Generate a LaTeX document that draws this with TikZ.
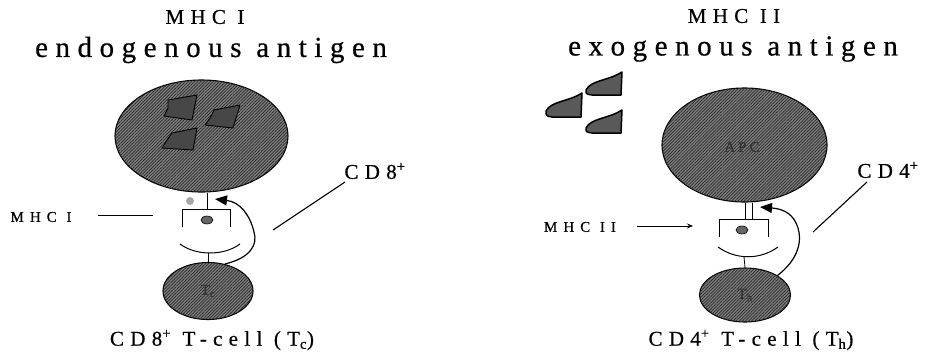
\documentclass[tikz,border=0pt]{standalone}
\usepackage{fontspec}
\setmainfont{Liberation Serif}[FakeBold=0.6]
\usetikzlibrary{shapes.geometric,arrows.meta,patterns.meta}

\newcommand{\spaced}[1]{\addfontfeatures{LetterSpace=#1}}

\begin{document}
\begin{tikzpicture}[x=1pt,y=1pt,
  cell/.style={ellipse,draw,line width=1.1pt,fill=black!50,inner sep=0pt,
    postaction={pattern={Lines[angle=45,distance=2.2pt,line width=0.7pt]},pattern color=black!85}},
  lbl/.style={inner sep=0pt,font=\fontsize{15}{17}\selectfont\spaced{40}},
  captext/.style={inner sep=0pt,font=\fontsize{21}{24}\selectfont\spaced{30}},
  head/.style={inner sep=0pt,font=\fontsize{29}{32}\selectfont\spaced{26}},
  inlbl/.style={text=black!80,font=\fontsize{15}{17}\selectfont\spaced{20}},
  antigen/.style={draw,line width=0.9pt,fill=black!72,line join=round}]
  \useasboundingbox (0,0) rectangle (931,-354);

  % MHC class I: endogenous pathway
  \node[captext] (titleA) at (205,-17) {MHC I};
  \node[head] (headA) at (211,-50) {endogenous antigen};
  \node[cell,minimum width=173pt,minimum height=112pt] (cellA) at (201.5,-136) {};
  \draw[antigen] (168,-100) -- (197,-95) -- (192,-120) -- (164,-116) -- (168,-108) -- cycle;
  \draw[antigen] (214,-110) -- (240,-105) -- (233,-128) -- (205,-125) -- (210,-118) -- cycle;
  \draw[antigen] (172,-133) -- (197,-128) -- (193,-150) -- (162,-148) -- (167,-140) -- cycle;
  \coordinate (mhcA) at (207,-209);
  \draw[line width=0.8pt] (cellA.south -| mhcA) -- (mhcA);
  \draw[line width=0.8pt] (182,-227) -- (182,-209) -- (230,-209) -- (230,-227);
  \fill[black!35] (190,-201) circle (4);
  \draw[fill=black!60,line width=0.6pt] (207,-220) ellipse (6 and 4);
  \draw[line width=1pt] (180,-244) .. controls (196,-256) and (224,-256) .. (240,-244);
  \node[cell,minimum width=90pt,minimum height=57pt] (tc) at (208,-291) {};
  \node[inlbl] at (tc) {T\textsubscript{c}};
  \draw[line width=0.8pt] (208,-253) -- (tc.north);
  \draw[line width=1.2pt,-{Triangle[length=12pt,width=10pt]}]
    (tc.58) .. controls (250,-258) and (258,-245) .. (254,-232)
    .. controls (250,-215) and (240,-202) .. (215,-199);
  \node[lbl] (mhcAlbl) at (41,-217) {MHC I};
  \draw[line width=0.7pt] (98,-215) -- (153,-215);
  \node[captext] (cd8) at (375,-171) {CD8\textsuperscript{+}};
  \draw[line width=1.1pt] (345,-182) -- (273,-230);
  \node[captext] (tcLbl) at (212,-340) {CD8\textsuperscript{+} T-cell (T\textsubscript{c})};

  % MHC class II: exogenous pathway
  \node[captext] (titleB) at (734,-16) {MHC II};
  \node[head] (headB) at (733,-49) {exogenous antigen};
  \draw[antigen,line width=1.5pt,fill=black!65] (546,-111) .. controls (551,-101) and (568,-102) .. (582,-93)
    -- (581,-117) -- (552,-117) .. controls (546,-116) .. cycle;
  \draw[antigen,line width=1.5pt,fill=black!65] (586,-90) .. controls (591,-80) and (608,-81) .. (622,-72)
    -- (621,-95) -- (592,-95) .. controls (586,-94) .. cycle;
  \draw[antigen,line width=1.5pt,fill=black!65] (586,-128) .. controls (591,-118) and (608,-119) .. (622,-110)
    -- (621,-133) -- (592,-133) .. controls (586,-132) .. cycle;
  \node[cell,minimum width=165pt,minimum height=114pt] (apc) at (744.5,-145) {};
  \node[inlbl] at (742,-147) {APC};
  \coordinate (mhcB) at (748.5,-219);
  \draw[line width=0.7pt] (apc.south -| 745,0) -- (745,-219);
  \draw[line width=0.7pt] (apc.south -| 752,0) -- (752,-219);
  \draw[line width=0.8pt] (719,-237) -- (719,-219) -- (768,-219) -- (768,-237);
  \draw[fill=black!60,line width=0.6pt] (742,-230) ellipse (6 and 4);
  \draw[line width=1pt] (718,-247) .. controls (736,-260) and (760,-260) .. (778,-247);
  \node[cell,minimum width=91pt,minimum height=54pt] (th) at (745,-295) {};
  \node[inlbl] at (th) {T\textsubscript{h}};
  \draw[line width=0.8pt] (744,-257) -- (th.north);
  \draw[line width=1.2pt,-{Triangle[length=12pt,width=10pt]}]
    (th.31) .. controls (795,-262) and (803,-245) .. (798,-228)
    .. controls (794,-215) and (785,-209) .. (760,-207);
  \node[lbl] (mhcBlbl) at (580,-227) {MHC II};
  \draw[line width=0.7pt,-{Stealth[length=6pt,width=5pt]}] (637,-226) -- (693,-226);
  \node[captext] (cd4) at (888,-170) {CD4\textsuperscript{+}};
  \draw[line width=1.1pt] (867,-182) -- (813,-232);
  \node[captext] (thLbl) at (751,-340) {CD4\textsuperscript{+} T-cell (T\textsubscript{h})};
\end{tikzpicture}
\end{document}
